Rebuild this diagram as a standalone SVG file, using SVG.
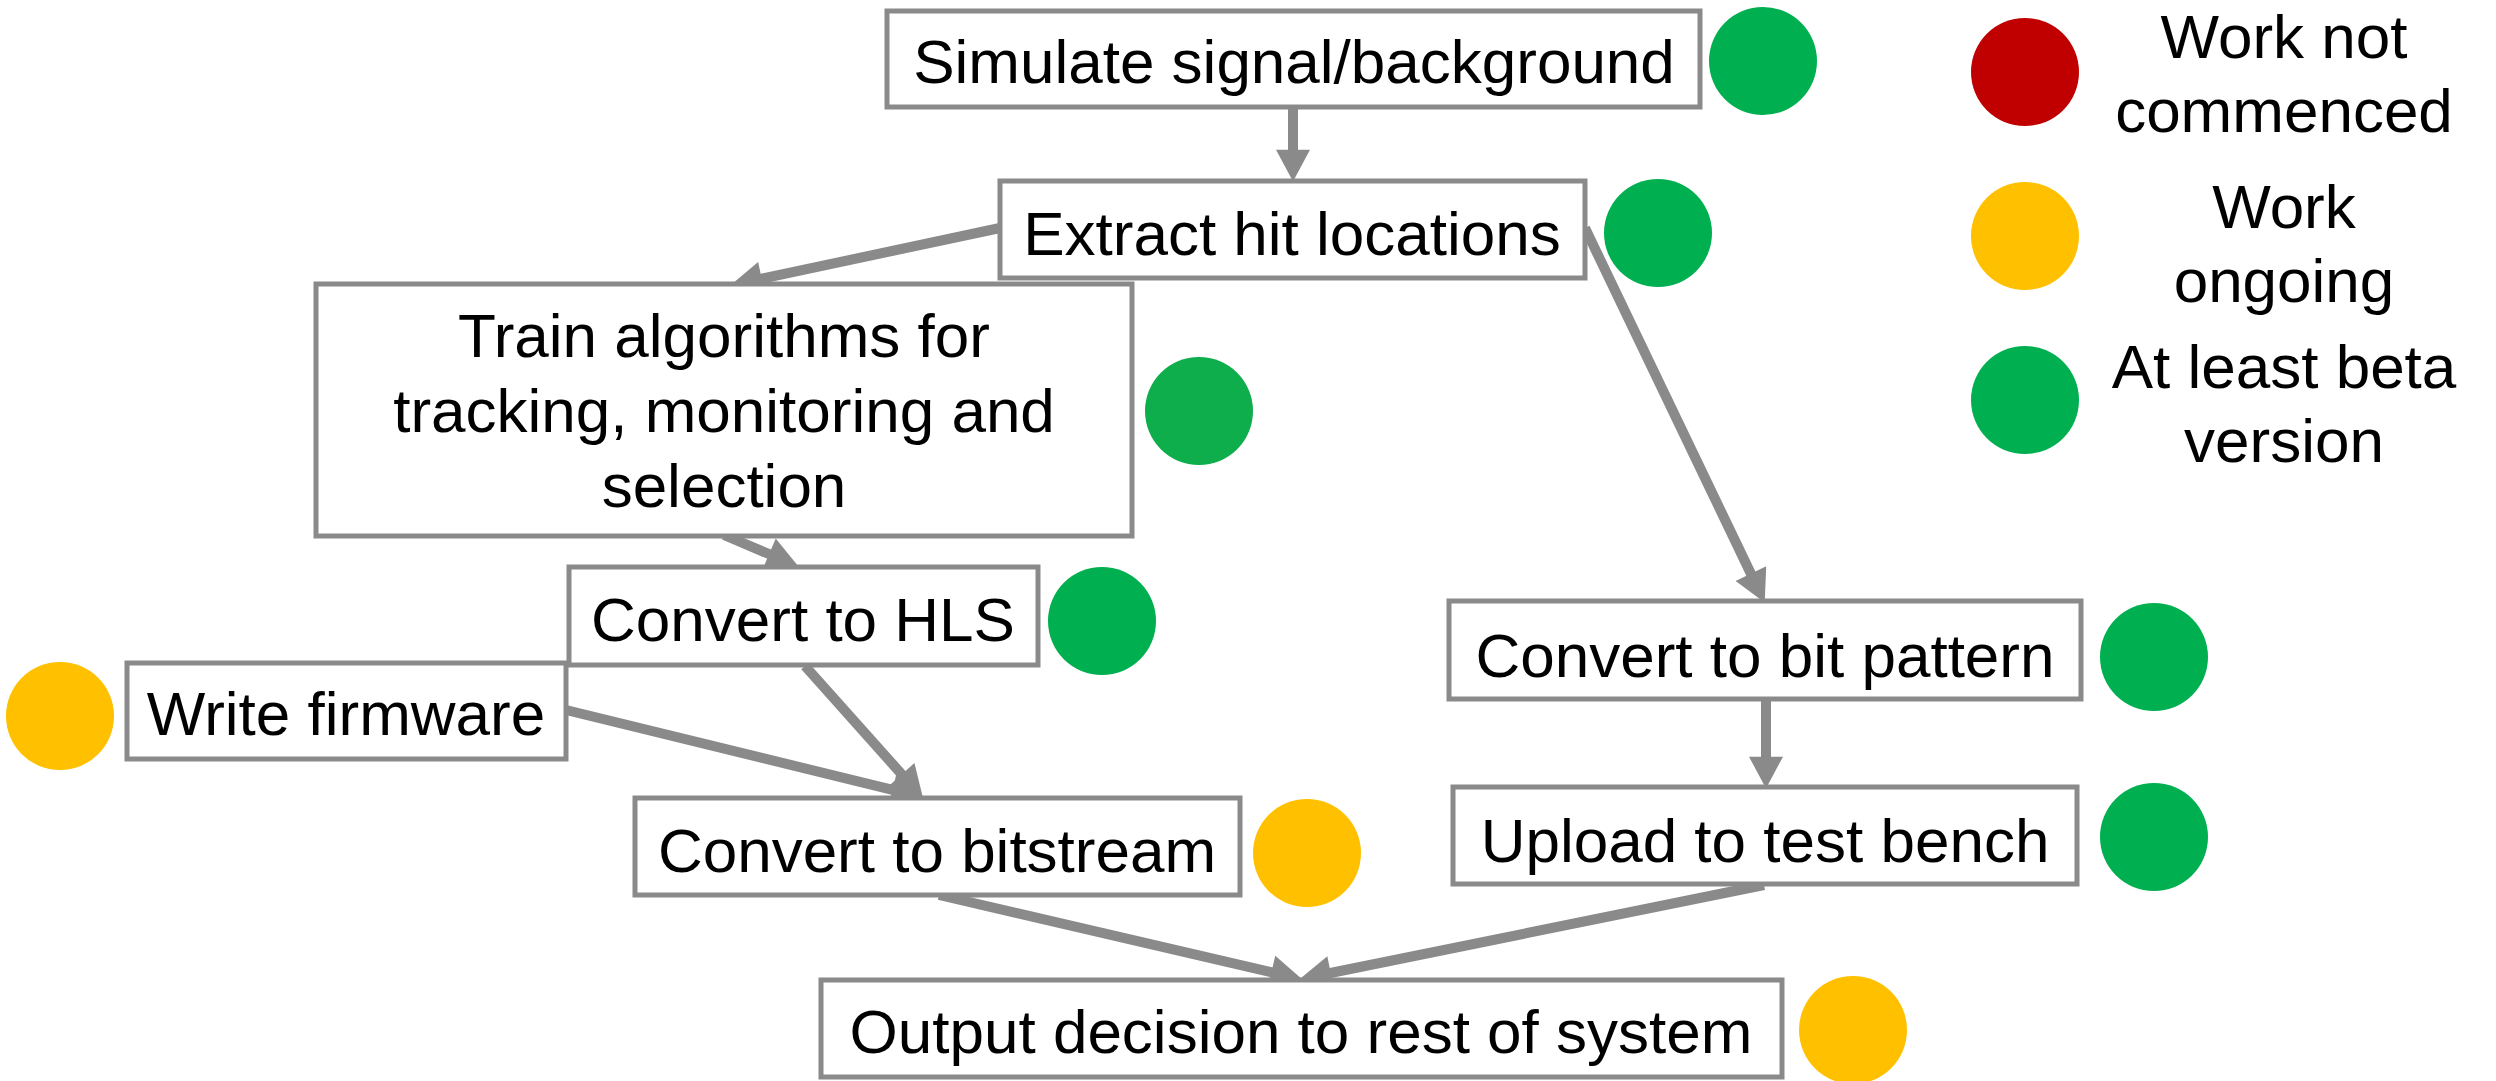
<svg xmlns="http://www.w3.org/2000/svg" width="2496" height="1081" viewBox="0 0 2496 1081">
<style>
.box{fill:#ffffff;stroke:#8a8a8a;stroke-width:5}
.lbl{font-family:"Liberation Sans",Arial,sans-serif;font-size:62px;fill:#000000;text-anchor:middle}
.con{stroke:#8a8a8a;stroke-width:10;fill:none;marker-end:url(#ah)}
.g{fill:#00B050}
.y{fill:#FFC000}
.r{fill:#C00000}
</style>
<defs>
<marker id="ah" markerUnits="userSpaceOnUse" markerWidth="34" markerHeight="34" viewBox="0 0 30 32" refX="5" refY="16" orient="auto">
<path d="M0,0 L30,16 L0,32 z" fill="#8a8a8a"/>
</marker>
</defs>
<rect width="2496" height="1081" fill="#ffffff"/>
<g id="connectors">
<line class="con" x1="1293" y1="108" x2="1293" y2="155"/>
<line class="con" x1="1000" y1="228" x2="756.5" y2="279.8"/>
<line class="con" x1="1585" y1="228" x2="1753.2" y2="578.5"/>
<line class="con" x1="724" y1="535" x2="774" y2="556.2"/>
<line class="con" x1="805" y1="666" x2="905.3" y2="778.3"/>
<line class="con" x1="566" y1="710" x2="897.7" y2="791.1"/>
<line class="con" x1="1766" y1="700" x2="1766" y2="762"/>
<line class="con" x1="939" y1="895" x2="1276.6" y2="973.4"/>
<line class="con" x1="1764" y1="885" x2="1325.5" y2="974"/>
</g>
<g id="simulate">
<rect class="box" x="887" y="11" width="813" height="96"/>
<text class="lbl" x="1294" y="83">Simulate signal/background</text>
<circle class="g" cx="1763" cy="61" r="54"/>
</g>
<g id="extract">
<rect class="box" x="1000" y="181" width="585" height="97"/>
<text class="lbl" x="1292" y="255">Extract hit locations</text>
<circle class="g" cx="1658" cy="233" r="54"/>
</g>
<g id="train">
<rect class="box" x="316" y="284" width="816" height="252"/>
<text class="lbl" x="724" y="357">Train algorithms for</text>
<text class="lbl" x="724" y="432">tracking, monitoring and</text>
<text class="lbl" x="724" y="507">selection</text>
<circle cx="1199" cy="411" r="54" fill="#0DAE4B"/>
</g>
<g id="hls">
<rect class="box" x="569" y="567" width="469" height="98"/>
<text class="lbl" x="803" y="641">Convert to HLS</text>
<circle class="g" cx="1102" cy="621" r="54"/>
</g>
<g id="firmware">
<rect class="box" x="127" y="663" width="439" height="96"/>
<text class="lbl" x="346" y="735">Write firmware</text>
<circle class="y" cx="60" cy="716" r="54"/>
</g>
<g id="bitstream">
<rect class="box" x="635" y="798" width="605" height="97"/>
<text class="lbl" x="937" y="872">Convert to bitstream</text>
<circle class="y" cx="1307" cy="853" r="54"/>
</g>
<g id="bitpattern">
<rect class="box" x="1449" y="601" width="632" height="98"/>
<text class="lbl" x="1765" y="677">Convert to bit pattern</text>
<circle class="g" cx="2154" cy="657" r="54"/>
</g>
<g id="upload">
<rect class="box" x="1453" y="787" width="624" height="97"/>
<text class="lbl" x="1765" y="862">Upload to test bench</text>
<circle class="g" cx="2154" cy="837" r="54"/>
</g>
<g id="output">
<rect class="box" x="821" y="980" width="961" height="97"/>
<text class="lbl" x="1301" y="1053">Output decision to rest of system</text>
<circle class="y" cx="1853" cy="1030" r="54"/>
</g>
<g id="legend">
<circle class="r" cx="2025" cy="72" r="54"/>
<text class="lbl" x="2284" y="58">Work not</text>
<text class="lbl" x="2284" y="132">commenced</text>
<circle class="y" cx="2025" cy="236" r="54"/>
<text class="lbl" x="2284" y="228">Work</text>
<text class="lbl" x="2284" y="302">ongoing</text>
<circle class="g" cx="2025" cy="400" r="54"/>
<text class="lbl" x="2284" y="388">At least beta</text>
<text class="lbl" x="2284" y="462">version</text>
</g>
</svg>
